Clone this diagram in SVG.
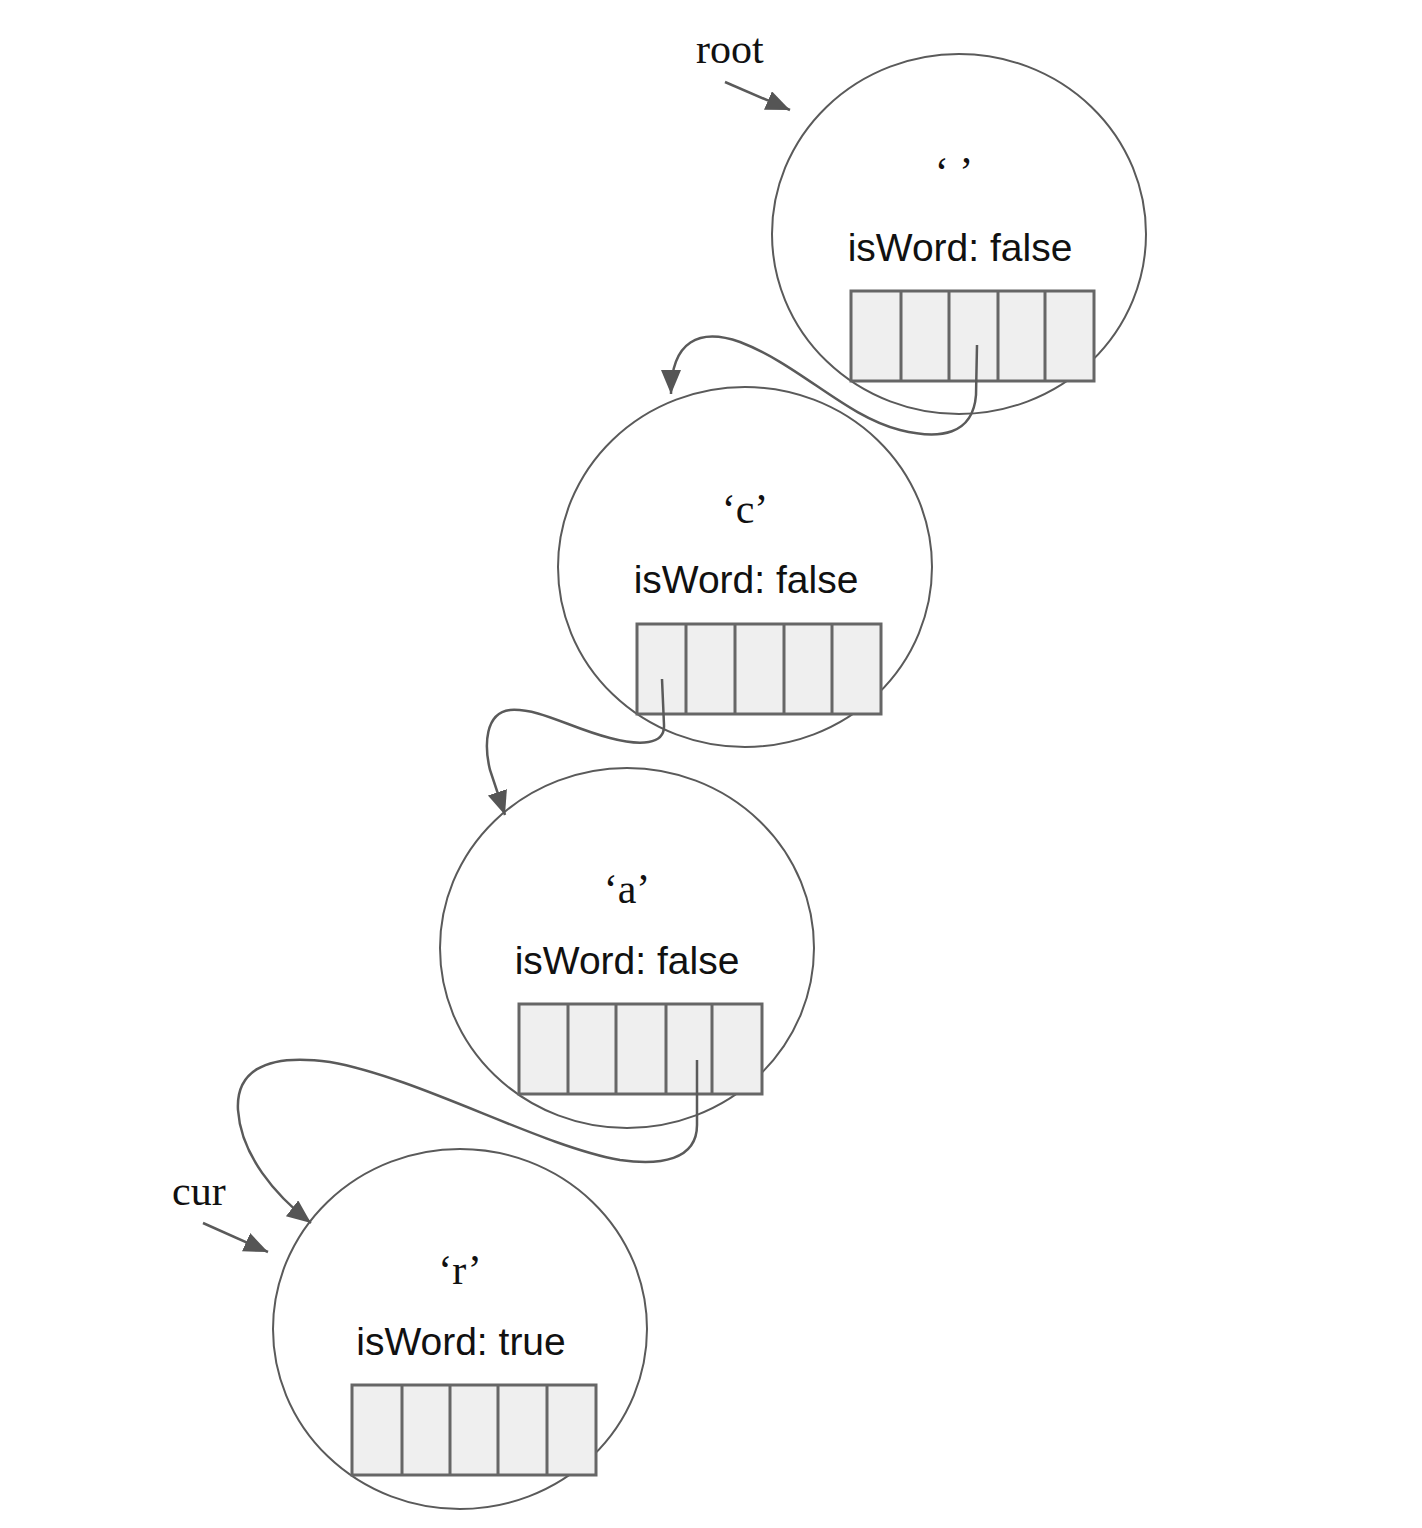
<svg xmlns="http://www.w3.org/2000/svg" width="1422" height="1528" viewBox="0 0 1422 1528">
<defs>
<style>
.node{fill:#fff;stroke:#5a5a5a;stroke-width:2}
.cell{fill:#efefef;stroke:#666;stroke-width:3}
.div{stroke:#666;stroke-width:3}
.ch{font-family:"Liberation Serif",serif;font-size:42px;fill:#111;text-anchor:middle}
.lbl{font-family:"Liberation Serif",serif;font-size:42px;fill:#111}
.iw{font-family:"Liberation Sans",Arial,sans-serif;font-size:39px;fill:#111;text-anchor:middle}
.conn{fill:none;stroke:#5a5a5a;stroke-width:2.5}
</style>
<marker id="ah" markerUnits="userSpaceOnUse" markerWidth="26" markerHeight="22" refX="24" refY="10" orient="auto">
<path d="M0,0 L24,10 L0,20 Z" fill="#555"/>
</marker>
</defs>
<rect width="1422" height="1528" fill="#fff"/>
<g id="node-root">
<ellipse class="node" cx="959" cy="234" rx="187" ry="180"/>
<text class="ch" x="954" y="186">‘ ’</text>
<text class="iw" x="960" y="261">isWord: false</text>
<rect class="cell" x="851" y="291" width="243" height="90"/>
<path class="div" d="M901,291V381M949,291V381M998,291V381M1045,291V381"/>
</g>
<g id="node-c">
<ellipse class="node" cx="745" cy="567" rx="187" ry="180"/>
<text class="ch" x="745" y="523">‘c’</text>
<text class="iw" x="746" y="593">isWord: false</text>
<rect class="cell" x="637" y="624" width="244" height="90"/>
<path class="div" d="M686,624V714M735,624V714M784,624V714M832,624V714"/>
</g>
<g id="node-a">
<ellipse class="node" cx="627" cy="948" rx="187" ry="180"/>
<text class="ch" x="627" y="903">‘a’</text>
<text class="iw" x="627" y="974">isWord: false</text>
<rect class="cell" x="519" y="1004" width="243" height="90"/>
<path class="div" d="M568,1004V1094M616,1004V1094M666,1004V1094M712,1004V1094"/>
</g>
<g id="node-r">
<ellipse class="node" cx="460" cy="1329" rx="187" ry="180"/>
<text class="ch" x="460" y="1284">‘r’</text>
<text class="iw" x="461" y="1355">isWord: true</text>
<rect class="cell" x="352" y="1385" width="244" height="90"/>
<path class="div" d="M402,1385V1475M450,1385V1475M498,1385V1475M547,1385V1475"/>
</g>
<g id="labels">
<text class="lbl" x="696" y="63">root</text>
<text class="lbl" x="172" y="1205">cur</text>
</g>
<g id="connectors">
<path class="conn" marker-end="url(#ah)" d="M725,82 L790,110"/>
<path class="conn" marker-end="url(#ah)" d="M203,1223 L268,1252"/>
<path class="conn" marker-end="url(#ah)" d="M977,345 L976,395 C973,435 940,440 900,430 C845,416 800,365 740,342 C700,328 671,340 671,394"/>
<path class="conn" marker-end="url(#ah)" d="M662,679 L664,725 C665,745 640,746 610,738 C570,728 540,708 510,710 C485,713 484,745 490,770 L505,815"/>
<path class="conn" marker-end="url(#ah)" d="M697,1060 L697,1125 C697,1160 660,1166 620,1160 C540,1146 420,1078 330,1062 C260,1052 236,1075 238,1110 C241,1155 275,1195 311,1223"/>
</g>
</svg>
